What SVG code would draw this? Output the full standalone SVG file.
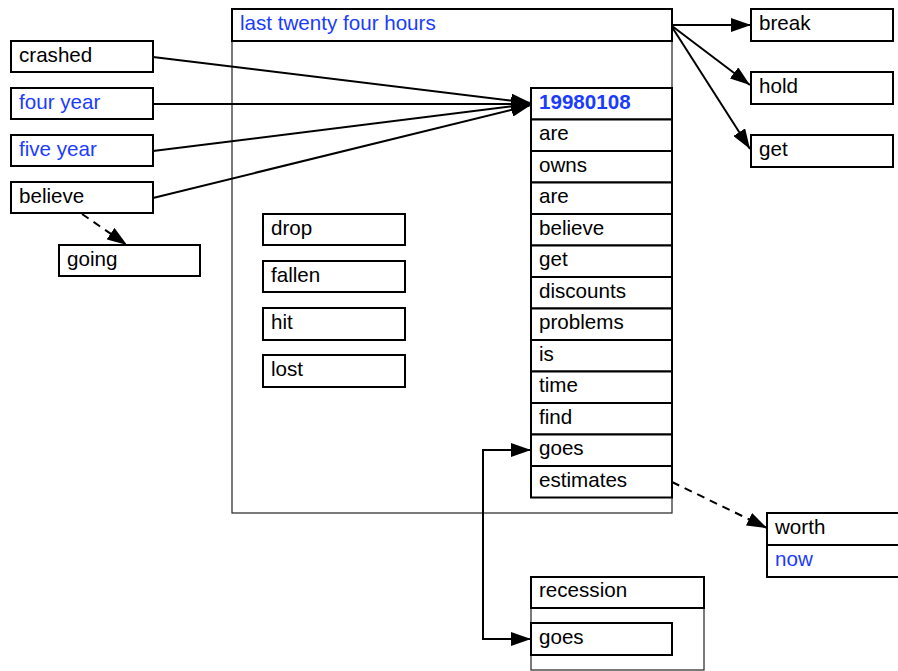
<svg xmlns="http://www.w3.org/2000/svg" width="898" height="671" viewBox="0 0 898 671">
<style>
.b{fill:#fff;stroke:#000;stroke-width:2}
.c{fill:none;stroke:#222;stroke-width:1.2}
text{font-family:"Liberation Sans",Arial,sans-serif;font-size:20.6px;fill:#000}
.bl{fill:#1a3cff}
.bd{font-weight:bold}
.e{fill:none;stroke:#000;stroke-width:2}
.d{stroke-dasharray:8,6}
</style>
<defs>
<marker id="ah" viewBox="0 0 20 14" refX="20" refY="7" markerWidth="20" markerHeight="14" markerUnits="userSpaceOnUse" orient="auto">
<path d="M0,0 L20,7 L0,14 z" fill="#000"/>
</marker>
</defs>
<rect x="0" y="0" width="898" height="671" fill="#fff"/>

<g id="container">
<rect class="c" x="232" y="9" width="440" height="504"/>
<rect class="b" x="232" y="9" width="440" height="32"/>
<text class="bl" x="240" y="30">last twenty four hours</text>
</g>

<g id="crashed"><rect class="b" x="11" y="41" width="142" height="31"/><text x="19" y="62">crashed</text></g>
<g id="fouryear"><rect class="b" x="11" y="88" width="142" height="31"/><text class="bl" x="19" y="109">four year</text></g>
<g id="fiveyear"><rect class="b" x="11" y="135" width="142" height="31"/><text class="bl" x="19" y="156">five year</text></g>
<g id="believe1"><rect class="b" x="11" y="182" width="142" height="31"/><text x="19" y="203">believe</text></g>
<g id="going"><rect class="b" x="59" y="245" width="141" height="31"/><text x="67" y="266">going</text></g>

<g id="drop"><rect class="b" x="263" y="214" width="142" height="31"/><text x="271" y="235">drop</text></g>
<g id="fallen"><rect class="b" x="263" y="261" width="142" height="31"/><text x="271" y="282">fallen</text></g>
<g id="hit"><rect class="b" x="263" y="308" width="142" height="32"/><text x="271" y="329">hit</text></g>
<g id="lost"><rect class="b" x="263" y="355" width="142" height="32"/><text x="271" y="376">lost</text></g>

<g id="column">
<rect class="b" x="531" y="88" width="141" height="31.5"/><text class="bl bd" x="539" y="109">19980108</text>
<rect class="b" x="531" y="119.5" width="141" height="31.5"/><text x="539" y="140">are</text>
<rect class="b" x="531" y="151" width="141" height="31.5"/><text x="539" y="172">owns</text>
<rect class="b" x="531" y="182.5" width="141" height="31.5"/><text x="539" y="203">are</text>
<rect class="b" x="531" y="214" width="141" height="31.5"/><text x="539" y="235">believe</text>
<rect class="b" x="531" y="245.5" width="141" height="31.5"/><text x="539" y="266">get</text>
<rect class="b" x="531" y="277" width="141" height="31.5"/><text x="539" y="298">discounts</text>
<rect class="b" x="531" y="308.5" width="141" height="31.5"/><text x="539" y="329">problems</text>
<rect class="b" x="531" y="340" width="141" height="31.5"/><text x="539" y="361">is</text>
<rect class="b" x="531" y="371.5" width="141" height="31.5"/><text x="539" y="392">time</text>
<rect class="b" x="531" y="403" width="141" height="31.5"/><text x="539" y="424">find</text>
<rect class="b" x="531" y="434.5" width="141" height="31.5"/><text x="539" y="455">goes</text>
<rect class="b" x="531" y="466" width="141" height="31.5"/><text x="539" y="487">estimates</text>
</g>

<g id="break"><rect class="b" x="751" y="9" width="142" height="32"/><text x="759" y="30">break</text></g>
<g id="hold"><rect class="b" x="751" y="72" width="142" height="32"/><text x="759" y="93">hold</text></g>
<g id="get"><rect class="b" x="751" y="135" width="142" height="32"/><text x="759" y="156">get</text></g>

<g id="worth">
<rect class="b" x="767" y="513" width="140" height="32"/><text x="775" y="534">worth</text>
<rect class="b" x="767" y="545" width="140" height="32"/><text class="bl" x="775" y="566">now</text>
</g>

<g id="recession">
<rect class="c" x="531" y="577" width="173" height="93"/>
<rect class="b" x="531" y="577" width="173" height="31"/><text x="539" y="597">recession</text>
<rect class="b" x="531" y="623" width="141" height="32"/><text x="539" y="644">goes</text>
</g>

<g id="connectors">
<line class="e" x1="153" y1="57" x2="531" y2="103" marker-end="url(#ah)"/>
<line class="e" x1="153" y1="104" x2="531" y2="104" marker-end="url(#ah)"/>
<line class="e" x1="153" y1="151" x2="531" y2="104" marker-end="url(#ah)"/>
<line class="e" x1="153" y1="198" x2="531" y2="105" marker-end="url(#ah)"/>
<line class="e d" x1="82" y1="214" x2="127" y2="245" marker-end="url(#ah)"/>
<line class="e" x1="672" y1="25" x2="751" y2="25" marker-end="url(#ah)"/>
<line class="e" x1="672" y1="26" x2="750" y2="85" marker-end="url(#ah)"/>
<line class="e" x1="672" y1="27" x2="750" y2="149" marker-end="url(#ah)"/>
<line class="e d" x1="672" y1="482" x2="767" y2="528" marker-end="url(#ah)"/>
<path class="e" d="M483,639 L483,450 L531,450" marker-end="url(#ah)"/>
<path class="e" d="M483,450 L483,639 L531,639" marker-end="url(#ah)"/>
</g>
</svg>
